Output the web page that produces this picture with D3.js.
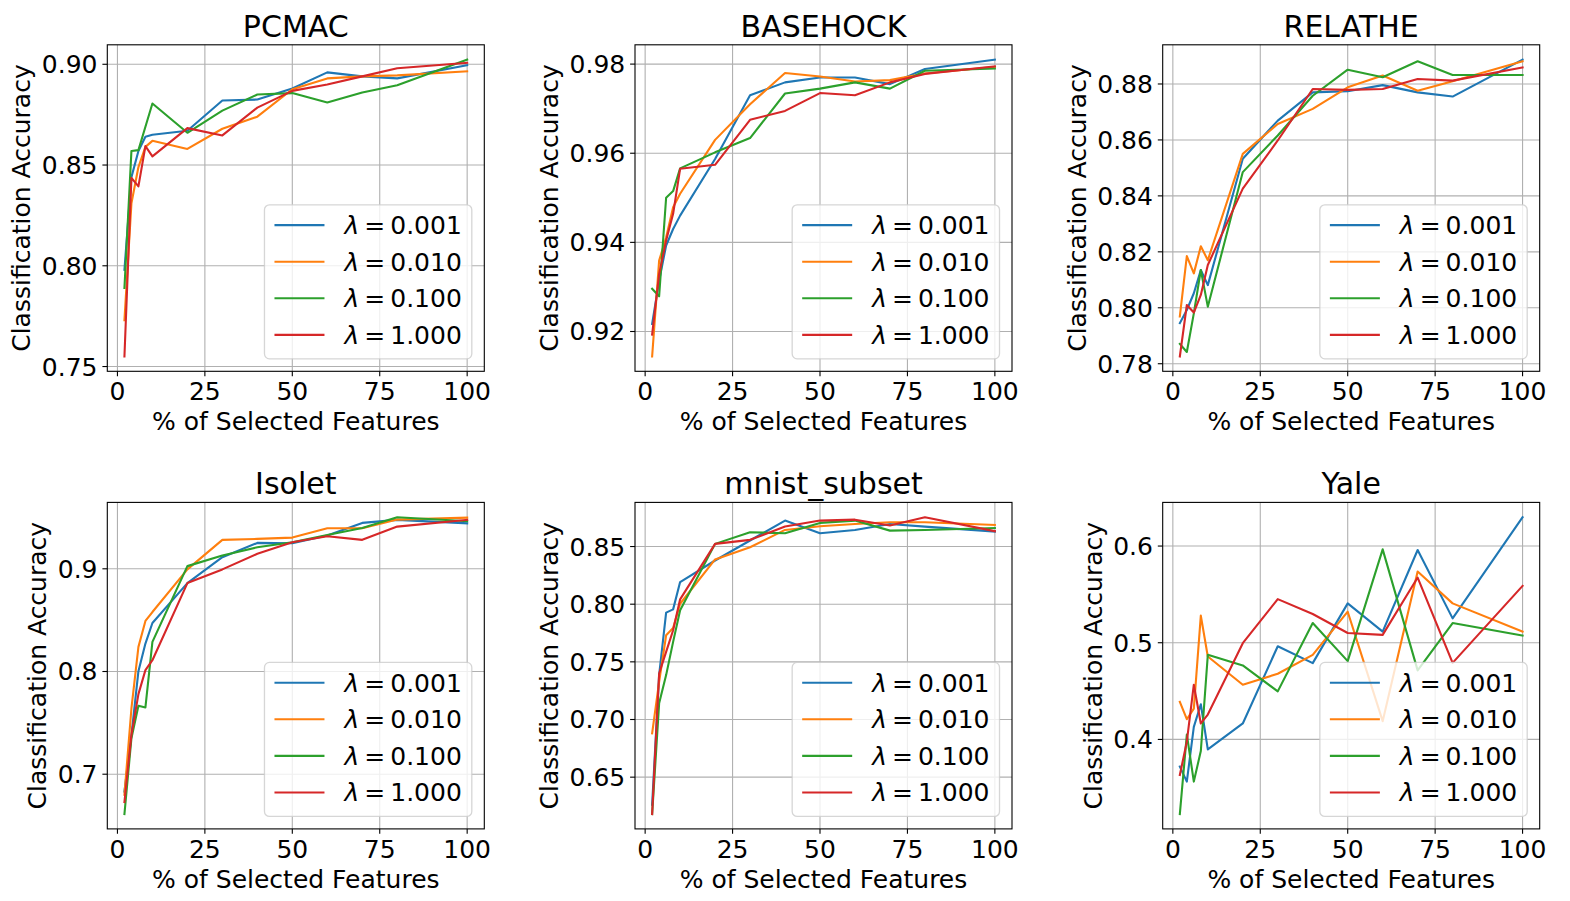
<!DOCTYPE html>
<html>
<head>
<meta charset="utf-8">
<script src="https://cdn.jsdelivr.net/npm/d3@7"></script>
<style>
  body { margin: 0; background: #fff; }
  svg { display: block; }
  text { font-family: "DejaVu Sans", sans-serif; fill: #000; }
</style>
</head>
<body>
<svg id="chart" width="1570" height="901"></svg>
<script>
// % of selected features (x values shared by every panel)
const xPct = [2, 4, 6, 8, 10, 20, 30, 40, 50, 60, 70, 80, 100];
const lambdaLabels = ["0.001", "0.010", "0.100", "1.000"];
const xTicks = [0, 25, 50, 75, 100];

// accuracy per lambda (rows: 0.001, 0.010, 0.100, 1.000)
const pcmacAcc = [
  [0.798, 0.844, 0.857, 0.864, 0.865, 0.867, 0.882, 0.8825, 0.888, 0.896, 0.894, 0.893, 0.8995],
  [0.773, 0.831, 0.849, 0.859, 0.862, 0.858, 0.868, 0.874, 0.8876, 0.893, 0.894, 0.8945, 0.8965],
  [0.789, 0.857, 0.8574, 0.869, 0.8805, 0.866, 0.877, 0.885, 0.8857, 0.881, 0.886, 0.8896, 0.9023],
  [0.755, 0.8436, 0.8394, 0.8594, 0.8543, 0.8683, 0.8647, 0.8785, 0.8868, 0.89, 0.894, 0.898, 0.9007],
];
const basehockAcc = [
  [0.9217, 0.9314, 0.9393, 0.943, 0.946, 0.9587, 0.973, 0.9759, 0.977, 0.977, 0.9755, 0.9789, 0.981],
  [0.9144, 0.9359, 0.9411, 0.9479, 0.9509, 0.963, 0.971, 0.978, 0.9772, 0.9761, 0.9764, 0.9779, 0.9794],
  [0.9296, 0.9279, 0.95, 0.9515, 0.9566, 0.9602, 0.9634, 0.9734, 0.9745, 0.9759, 0.9745, 0.9785, 0.979],
  [0.9193, 0.9329, 0.9404, 0.9464, 0.9565, 0.9574, 0.9675, 0.9695, 0.9735, 0.973, 0.9759, 0.9778, 0.9795],
];
const relatheAcc = [
  [0.7945, 0.7992, 0.8052, 0.8135, 0.8081, 0.8533, 0.8669, 0.877, 0.8774, 0.8796, 0.877, 0.8755, 0.8887],
  [0.7969, 0.8185, 0.8123, 0.822, 0.817, 0.855, 0.8657, 0.8711, 0.8788, 0.883, 0.8776, 0.881, 0.8881],
  [0.7871, 0.7842, 0.798, 0.8135, 0.8004, 0.8485, 0.8616, 0.8758, 0.8851, 0.8824, 0.8881, 0.8832, 0.8832],
  [0.7826, 0.801, 0.7983, 0.8046, 0.8153, 0.8426, 0.8598, 0.8782, 0.8779, 0.8782, 0.8818, 0.8812, 0.8859],
];
const isoletAcc = [
  [0.6832, 0.738, 0.8003, 0.8272, 0.8472, 0.8861, 0.9113, 0.9252, 0.9249, 0.9324, 0.9447, 0.9476, 0.9443],
  [0.68, 0.764, 0.824, 0.8492, 0.8579, 0.8994, 0.9282, 0.9291, 0.9304, 0.9395, 0.9395, 0.9479, 0.9498],
  [0.6612, 0.735, 0.7667, 0.765, 0.8288, 0.9026, 0.9129, 0.921, 0.9259, 0.933, 0.9398, 0.9502, 0.9463],
  [0.6728, 0.7382, 0.778, 0.8013, 0.811, 0.8861, 0.8994, 0.9146, 0.9259, 0.9317, 0.9282, 0.9411, 0.9476],
];
const mnistAcc = [
  [0.626, 0.7385, 0.7927, 0.7955, 0.8192, 0.8379, 0.8552, 0.8725, 0.8615, 0.8644, 0.8696, 0.8673, 0.863],
  [0.688, 0.7327, 0.773, 0.7794, 0.8004, 0.8388, 0.8494, 0.8644, 0.8676, 0.8696, 0.871, 0.871, 0.8687],
  [0.618, 0.714, 0.7385, 0.7673, 0.7947, 0.8523, 0.8624, 0.8615, 0.8705, 0.8725, 0.8638, 0.8644, 0.8661],
  [0.618, 0.7399, 0.7586, 0.7774, 0.8042, 0.8523, 0.8558, 0.8673, 0.8725, 0.8733, 0.8682, 0.8754, 0.8633],
];
const yaleAcc = [
  [0.3719, 0.3564, 0.413, 0.4364, 0.3897, 0.4165, 0.4964, 0.4789, 0.5407, 0.5115, 0.5959, 0.5252, 0.6298],
  [0.4388, 0.4209, 0.4319, 0.528, 0.4858, 0.4566, 0.4679, 0.4875, 0.5321, 0.4189, 0.5736, 0.5407, 0.5115],
  [0.3228, 0.4051, 0.3564, 0.388, 0.4875, 0.4765, 0.4497, 0.5204, 0.481, 0.5966, 0.4714, 0.5204, 0.5074],
  [0.3633, 0.3976, 0.4566, 0.4165, 0.4257, 0.4995, 0.5451, 0.5297, 0.5101, 0.5081, 0.5674, 0.4792, 0.5588],
];

const pcmacTicks = [0.75, 0.80, 0.85, 0.90];
const basehockTicks = [0.92, 0.94, 0.96, 0.98];
const relatheTicks = [0.78, 0.80, 0.82, 0.84, 0.86, 0.88];
const isoletTicks = [0.7, 0.8, 0.9];
const mnistTicks = [0.65, 0.70, 0.75, 0.80, 0.85];
const yaleTicks = [0.4, 0.5, 0.6];

const panels = [
  { title: "PCMAC", acc: pcmacAcc, yTicks: pcmacTicks, fmt: ".2f" },
  { title: "BASEHOCK", acc: basehockAcc, yTicks: basehockTicks, fmt: ".2f" },
  { title: "RELATHE", acc: relatheAcc, yTicks: relatheTicks, fmt: ".2f" },
  { title: "Isolet", acc: isoletAcc, yTicks: isoletTicks, fmt: ".1f" },
  { title: "mnist_subset", acc: mnistAcc, yTicks: mnistTicks, fmt: ".2f" },
  { title: "Yale", acc: yaleAcc, yTicks: yaleTicks, fmt: ".1f" },
];

const colors = ["#1f77b4", "#ff7f0e", "#2ca02c", "#d62728"];

// layout (px)
const W = 377, H = 326.5;
const colLeft = [107.3, 635, 1162.7];
const rowTop = [44.8, 502.4];
const FONT = 25, TITLE_FONT = 30;
const TICK_LEN = 4.9, TICK_PAD = 4.9;

const svg = d3.select("#chart");

// matplotlib style auto-limits: 5% margin
const padded = (lo, hi) => {
  const m = (hi - lo) * 0.05;
  return [lo - m, hi + m];
};

panels.forEach((p, i) => {
  const left = colLeft[i % 3];
  const top = rowTop[Math.floor(i / 3)];
  const g = svg.append("g").attr("transform", `translate(${left},${top})`);

  const x = d3.scaleLinear().domain(padded(d3.min(xPct), d3.max(xPct))).range([0, W]);
  const allY = p.acc.flat();
  const y = d3.scaleLinear().domain(padded(d3.min(allY), d3.max(allY))).range([H, 0]);

  const clipId = `clip-${i}`;
  g.append("clipPath").attr("id", clipId)
    .append("rect").attr("width", W).attr("height", H);

  // grid
  const grid = g.append("g").attr("stroke", "#b0b0b0").attr("stroke-width", 1.1);
  xTicks.forEach((t) => {
    grid.append("line").attr("x1", x(t)).attr("x2", x(t)).attr("y1", 0).attr("y2", H);
  });
  p.yTicks.forEach((t) => {
    grid.append("line").attr("x1", 0).attr("x2", W).attr("y1", y(t)).attr("y2", y(t));
  });

  // lines
  const line = d3.line().x((d, k) => x(xPct[k])).y((d) => y(d));
  const lines = g.append("g").attr("clip-path", `url(#${clipId})`);
  p.acc.forEach((s, k) => {
    lines.append("path").datum(s).attr("d", line)
      .attr("fill", "none").attr("stroke", colors[k])
      .attr("stroke-width", 2.1).attr("stroke-linejoin", "round").attr("stroke-linecap", "square");
  });

  // spines
  g.append("rect").attr("width", W).attr("height", H)
    .attr("fill", "none").attr("stroke", "#000").attr("stroke-width", 1.1);

  // ticks and labels
  const fmt = d3.format(p.fmt);
  xTicks.forEach((t) => {
    g.append("line").attr("x1", x(t)).attr("x2", x(t)).attr("y1", H).attr("y2", H + TICK_LEN)
      .attr("stroke", "#000").attr("stroke-width", 1.1);
    g.append("text").attr("x", x(t)).attr("y", H + TICK_LEN + TICK_PAD + 19)
      .attr("text-anchor", "middle").attr("font-size", FONT).text(t);
  });
  let maxW = 0;
  p.yTicks.forEach((t) => {
    g.append("line").attr("x1", -TICK_LEN).attr("x2", 0).attr("y1", y(t)).attr("y2", y(t))
      .attr("stroke", "#000").attr("stroke-width", 1.1);
    const tx = g.append("text").attr("x", -TICK_LEN - TICK_PAD).attr("y", y(t) + 9)
      .attr("text-anchor", "end").attr("font-size", FONT).text(fmt(t));
    maxW = Math.max(maxW, tx.node().getComputedTextLength());
  });

  // axis labels
  g.append("text").attr("x", W / 2).attr("y", H + 59)
    .attr("text-anchor", "middle").attr("font-size", FONT).text("% of Selected Features");
  const ylx = -TICK_LEN - TICK_PAD - maxW - 5.6 - 5.9;
  g.append("text").attr("transform", `translate(${ylx},${H / 2}) rotate(-90)`)
    .attr("text-anchor", "middle").attr("font-size", FONT).text("Classification Accuracy");

  // title
  g.append("text").attr("x", W / 2).attr("y", -8.3)
    .attr("text-anchor", "middle").attr("font-size", TITLE_FONT).text(p.title);

  // legend (lower right)
  const leg = g.append("g");
  const box = leg.append("rect");
  const items = [];
  let textW = 0;
  lambdaLabels.forEach((lab, k) => {
    const t = leg.append("text").attr("font-size", FONT);
    t.append("tspan").attr("font-style", "italic").text("λ");
    t.append("tspan").attr("dx", 5).text("=");
    t.append("tspan").attr("dx", 5).text(lab);
    textW = Math.max(textW, t.node().getComputedTextLength() + 10);
    items.push(t);
  });
  const boxW = 10 + 50 + 20 + textW + 10;
  const boxH = 154;
  const bx = W - 12.5 - boxW, by = H - 12.5 - boxH;
  box.attr("x", bx).attr("y", by).attr("width", boxW).attr("height", boxH)
    .attr("rx", 5).attr("fill", "#fff").attr("fill-opacity", 0.8)
    .attr("stroke", "#cccccc").attr("stroke-opacity", 0.8).attr("stroke-width", 1.3);
  items.forEach((t, k) => {
    const ly = by + 20.3 + k * 36.6;
    leg.append("line").attr("x1", bx + 10).attr("x2", bx + 60).attr("y1", ly).attr("y2", ly)
      .attr("stroke", colors[k]).attr("stroke-width", 2.1);
    t.attr("x", bx + 80).attr("y", ly + 9);
  });
});
</script>
</body>
</html>
